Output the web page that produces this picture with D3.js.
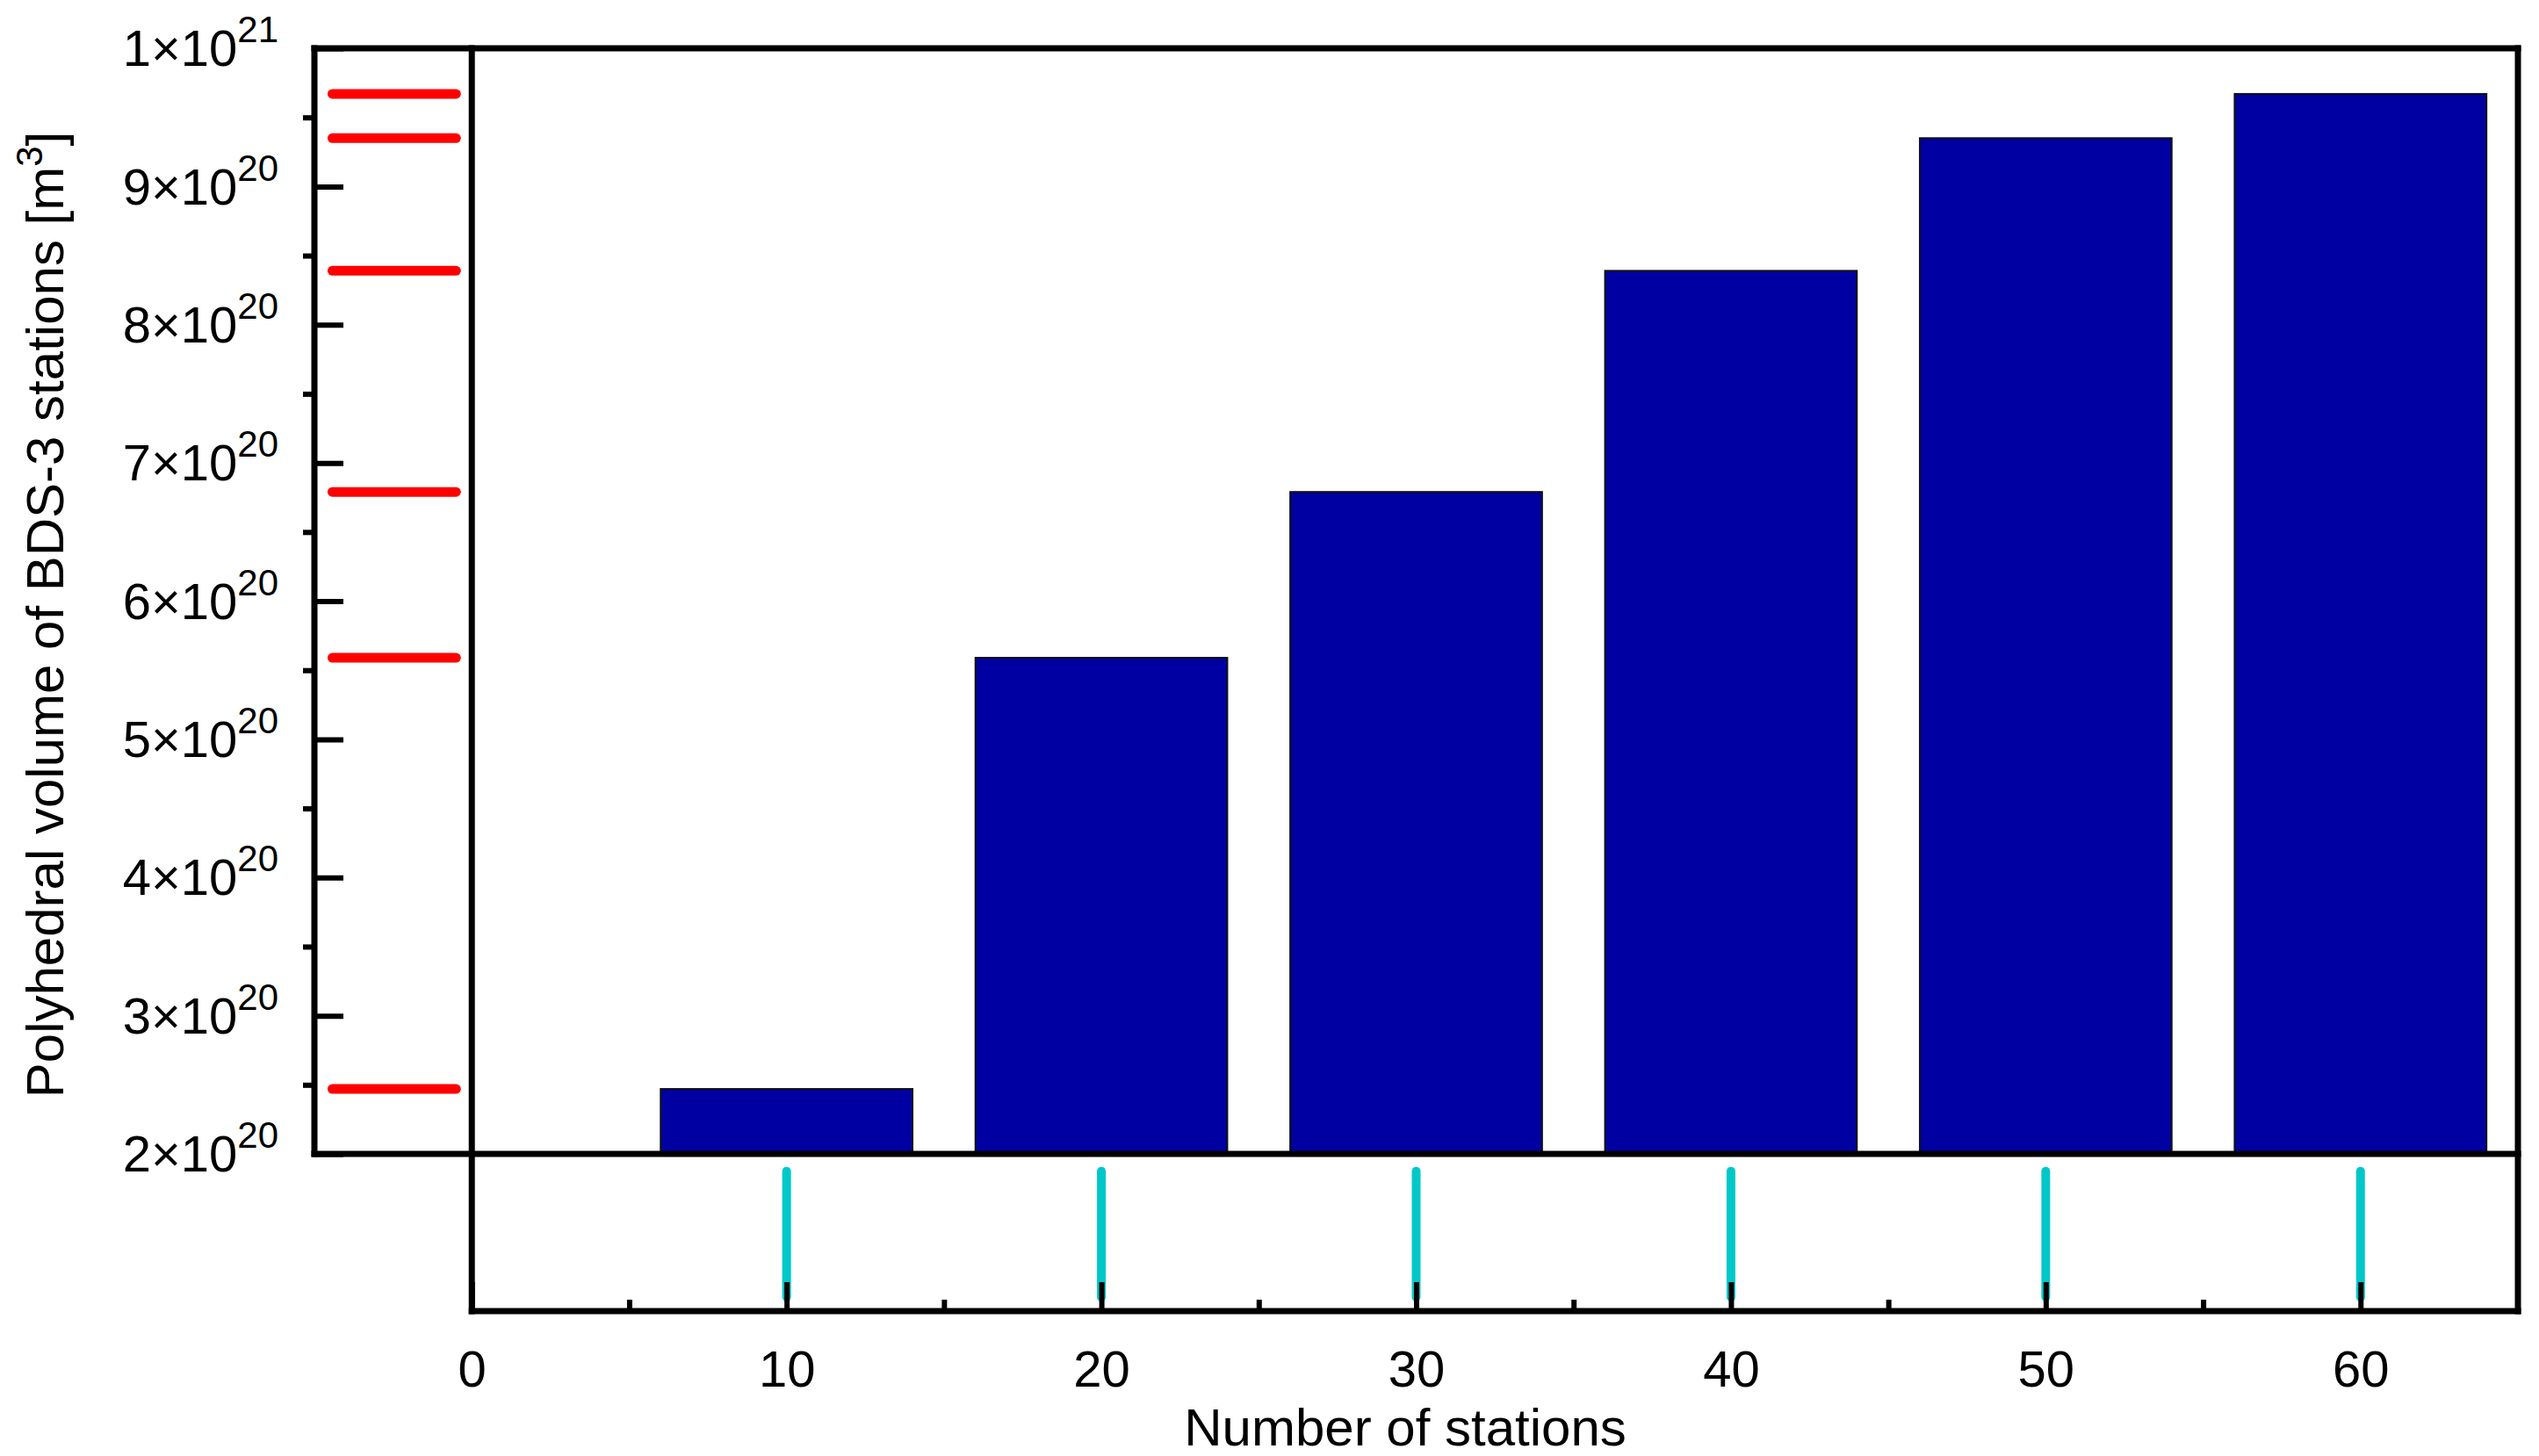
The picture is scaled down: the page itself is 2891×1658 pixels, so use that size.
<!DOCTYPE html>
<html>
<head>
<meta charset="utf-8">
<script src="https://cdn.jsdelivr.net/npm/d3@7"></script>
<style>
  body { margin: 0; background: #fff; }
  svg { display: block; font-family: Arial, "Liberation Sans", sans-serif; }
</style>
</head>
<body>
<script>
var w = 2891;
var h = 1658;

//Data
var stations = [10, 20, 30, 40, 50, 60];
var volumes = [2.47e20, 5.59e20, 6.79e20, 8.39e20, 9.35e20, 9.67e20];
var spikes = [0.89, 0.89, 0.89, 0.89, 0.89, 0.89]; //lower panel impulses

//Ticks
var xMajorTicks = [0, 10, 20, 30, 40, 50, 60];
var xMinorTicks = [5, 15, 25, 35, 45, 55];
var yMajorTicks = [2e20, 3e20, 4e20, 5e20, 6e20, 7e20, 8e20, 9e20, 1e21];
var yMinorTicks = [2.5e20, 3.5e20, 4.5e20, 5.5e20, 6.5e20, 7.5e20, 8.5e20, 9.5e20];
var yTickLabels = ["2×10^20", "3×10^20", "4×10^20", "5×10^20", "6×10^20",
                   "7×10^20", "8×10^20", "9×10^20", "1×10^21"];

var barWidth = 8; //in stations
var frameW = 7;

//Scales
var xScale = d3.scaleLinear().domain([-5, 65]).range([358, 2867]);
var yScale = d3.scaleLinear().domain([2e20, 1e21]).range([1314, 55]);
var yLow = d3.scaleLinear().domain([0, 1]).range([1493, 1314]);

var svg = d3.select("body")
    .append("svg")
    .attr("width", w)
    .attr("height", h);

//Bars
svg.selectAll("rect.bar")
    .data(stations)
    .enter()
    .append("rect")
    .attr("class", "bar")
    .attr("x", function (d) { return xScale(d - barWidth / 2); })
    .attr("width", function (d) { return xScale(barWidth) - xScale(0); })
    .attr("y", function (d, i) { return yScale(volumes[i]); })
    .attr("height", function (d, i) { return yScale(2e20) - yScale(volumes[i]); })
    .attr("fill", "#0000a2")
    .attr("stroke", "#111")
    .attr("stroke-width", 2);

//Red marks in the left strip, one per bar value
svg.selectAll("line.mark")
    .data(volumes)
    .enter()
    .append("line")
    .attr("class", "mark")
    .attr("x1", xScale(-4.43))
    .attr("x2", xScale(-0.5))
    .attr("y1", function (d) { return yScale(d); })
    .attr("y2", function (d) { return yScale(d); })
    .attr("stroke", "#ff0000")
    .attr("stroke-width", 11)
    .attr("stroke-linecap", "round");

//Cyan impulses in the lower panel
svg.selectAll("line.spike")
    .data(stations)
    .enter()
    .append("line")
    .attr("class", "spike")
    .attr("x1", function (d) { return xScale(d); })
    .attr("x2", function (d) { return xScale(d); })
    .attr("y1", yLow(0.09))
    .attr("y2", function (d, i) { return yLow(spikes[i]); })
    .attr("stroke", "#00c8c8")
    .attr("stroke-width", 10)
    .attr("stroke-linecap", "round");

//Frame
var frame = svg.append("g")
    .attr("stroke", "#000")
    .attr("stroke-width", frameW)
    .attr("stroke-linecap", "square");

var lines = [
    [xScale(-5), yScale(1e21), xScale(65), yScale(1e21)],
    [xScale(-5), yScale(2e20), xScale(65), yScale(2e20)],
    [xScale(-5), yScale(1e21), xScale(-5), yScale(2e20)],
    [xScale(0), yScale(1e21), xScale(0), yLow(0)],
    [xScale(65), yScale(1e21), xScale(65), yLow(0)],
    [xScale(0), yLow(0), xScale(65), yLow(0)]
];

frame.selectAll("line")
    .data(lines)
    .enter()
    .append("line")
    .attr("x1", function (d) { return d[0]; })
    .attr("y1", function (d) { return d[1]; })
    .attr("x2", function (d) { return d[2]; })
    .attr("y2", function (d) { return d[3]; });

//Y axis: major ticks inward, minor ticks outward
var yaxis = d3.axisLeft(yScale)
    .tickValues(yMajorTicks)
    .tickSize(-33)
    .tickPadding(41)
    .tickFormat(function (d, i) { return yTickLabels[i]; });

var yMinor = d3.axisLeft(yScale)
    .tickValues(yMinorTicks)
    .tickSize(13)
    .tickFormat("");

var gy = svg.append("g")
    .attr("transform", "translate(" + xScale(-5) + ",0)")
    .call(yaxis);

var gym = svg.append("g")
    .attr("transform", "translate(" + xScale(-5) + ",0)")
    .call(yMinor);

gy.select(".domain").remove();
gym.select(".domain").remove();
gy.selectAll(".tick line").attr("stroke-width", 6);
gym.selectAll(".tick line").attr("stroke-width", 6);

gy.selectAll(".tick text")
    .attr("font-size", 58)
    .attr("font-family", "Arial, 'Liberation Sans', sans-serif")
    .attr("fill", "#000")
    .attr("dy", "0.34em")
    .each(function (d, i) {
        var parts = yTickLabels[i].split("^");
        var t = d3.select(this).text(null);
        t.append("tspan").text(parts[0]);
        t.append("tspan")
            .attr("font-size", 42)
            .attr("dy", -27)
            .text(parts[1]);
    });

//X axis at the bottom of the lower panel, ticks inward
var xaxis = d3.axisBottom(xScale)
    .tickValues(xMajorTicks)
    .tickSize(-33)
    .tickPadding(45)
    .tickFormat(d3.format("d"));

var xMinor = d3.axisBottom(xScale)
    .tickValues(xMinorTicks)
    .tickSize(-13)
    .tickFormat("");

var gx = svg.append("g")
    .attr("transform", "translate(0," + yLow(0) + ")")
    .call(xaxis);

gx.select(".domain").remove();
gx.selectAll(".tick line").attr("stroke-width", 6);
gx.selectAll(".tick text")
    .attr("font-size", 58)
    .attr("font-family", "Arial, 'Liberation Sans', sans-serif")
    .attr("fill", "#000");

var gxm = svg.append("g")
    .attr("transform", "translate(0," + yLow(0) + ")")
    .call(xMinor);
gxm.select(".domain").remove();
gxm.selectAll(".tick line").attr("stroke-width", 6);

//Axis titles
svg.append("text")
    .attr("x", 1600)
    .attr("y", 1646)
    .attr("text-anchor", "middle")
    .attr("font-size", 60)
    .text("Number of stations");

var ylab = svg.append("text")
    .attr("transform", "translate(72,700) rotate(-90)")
    .attr("text-anchor", "middle")
    .attr("font-size", 60);

ylab.append("tspan").text("Polyhedral volume of BDS-3 stations [m");
ylab.append("tspan").attr("font-size", 42).attr("dy", -24).text("3");
ylab.append("tspan").attr("dy", 24).text("]");
</script>
</body>
</html>
